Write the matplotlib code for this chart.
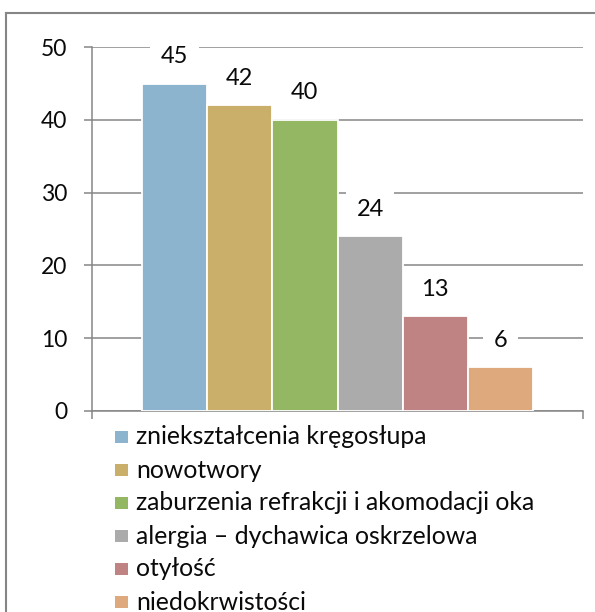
import matplotlib
matplotlib.use("Agg")
import matplotlib.pyplot as plt
from matplotlib.patches import Rectangle
from matplotlib.lines import Line2D

plt.rcParams['font.family'] = ['Lato', 'DejaVu Sans']

categories = ["zniekształcenia kręgosłupa", "nowotwory",
              "zaburzenia refrakcji i akomodacji oka",
              "alergia – dychawica oskrzelowa", "otyłość", "niedokrwistości"]
values = [45, 42, 40, 24, 13, 6]
colors = ["#8DB4CF", "#C9AF6A", "#93B762", "#ABABAB", "#C08383", "#DDA97D"]
yticks = [0, 10, 20, 30, 40, 50]

W, H = 595, 612
fig = plt.figure(figsize=(W / 100, H / 100), dpi=100)

def fx(px):
    return px / W

def fy(py):
    return 1 - py / H

# axes placement (pixel coordinates from reference)
ax_l, ax_r, ax_t, ax_b = 92, 583, 47.3, 410.8
ax = fig.add_axes([fx(ax_l), fy(ax_b), fx(ax_r - ax_l), (ax_b - ax_t) / H])

grid_c = "#868686"
n = len(values)
bw = 0.1328
for i, (v, c) in enumerate(zip(values, colors)):
    x = (i - (n - 1) / 2) * bw
    ax.bar(x, v, width=bw, color=c, edgecolor="white", linewidth=1.3, zorder=3)
    ax.annotate(str(v), (x, v), xytext=(0, 19.5), textcoords="offset points",
                ha="center", va="center", fontsize=17, color="#0a0a0a", zorder=5,
                bbox=dict(boxstyle="square,pad=0.45", fc="white", ec="none"))

ax.set_xlim(-0.5, 0.5)
ax.set_ylim(0, 50)
ax.set_yticks(yticks)
ax.set_yticklabels([str(t) for t in yticks], fontsize=16.5, color="#0a0a0a")
ax.set_xticks([-0.5, 0.5])
ax.set_xticklabels([])
ax.tick_params(axis="y", direction="out", length=5.8, width=1.1, color=grid_c, pad=12)
ax.tick_params(axis="x", direction="out", length=5.8, width=1.1, color=grid_c)
ax.yaxis.grid(True, color=grid_c, linewidth=1.1, zorder=0)
ax.set_axisbelow(True)
for s in ["top", "right"]:
    ax.spines[s].set_visible(False)
for s in ["left", "bottom"]:
    ax.spines[s].set_color(grid_c)
    ax.spines[s].set_linewidth(1.1)

# outer chart border (top and left visible, rest cropped)
fig.add_artist(Line2D([fx(6), fx(W + 5)], [fy(13), fy(13)], color=grid_c, linewidth=1.5,
                      transform=fig.transFigure))
fig.add_artist(Line2D([fx(6), fx(6)], [fy(13), fy(H + 5)], color=grid_c, linewidth=1.5,
                      transform=fig.transFigure))

# legend
leg_y0, leg_dy = 437, 33
for i, (lab, c) in enumerate(zip(categories, colors)):
    yc = leg_y0 + i * leg_dy
    fig.add_artist(Rectangle((fx(115), fy(yc + 6.3)), fx(12.6), 12.6 / H, facecolor=c,
                             edgecolor="none", transform=fig.transFigure))
    fig.text(fx(136), fy(yc), lab, fontsize=17.8, va="center", ha="left", color="#0a0a0a")

fig.savefig("out.png", dpi=100)
